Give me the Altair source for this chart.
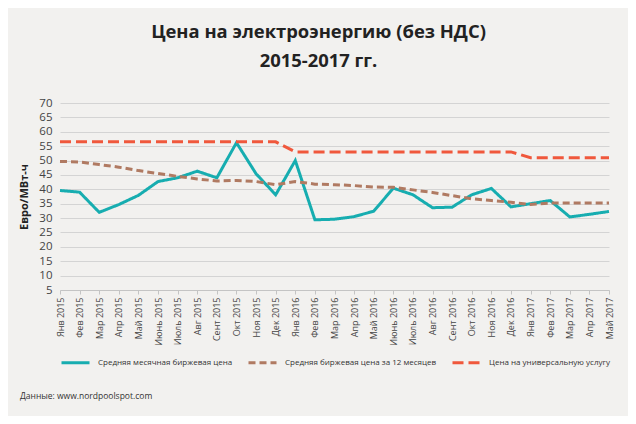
import altair as alt
import pandas as pd

months = ["Янв", "Фев", "Мар", "Апр", "Май", "Июнь", "Июль", "Авг", "Сент", "Окт", "Ноя", "Дек"]
labels = [f"{m} {y}" for y in (2015, 2016, 2017) for m in months][:29]

series = [
    "Средняя месячная биржевая цена",
    "Средняя биржевая цена за 12 месяцев",
    "Цена на универсальную услугу",
]

spot = [39.6, 39.0, 32.0, 34.7, 37.9, 42.7, 44.0, 46.3, 44.0, 56.2, 45.4, 38.1,
        50.0, 29.4, 29.6, 30.5, 32.4, 40.4, 38.1, 33.6, 33.8, 38.1, 40.3, 33.9,
        35.0, 36.1, 30.4, 31.3, 32.3]
avg12 = [49.7, 49.5, 48.6, 47.7, 46.5, 45.5, 44.5, 43.6, 42.9, 43.1, 42.7, 41.6,
         42.7, 41.8, 41.6, 41.3, 40.8, 40.7, 39.8, 38.9, 37.8, 36.7, 36.1, 35.5,
         34.7, 35.2, 35.2, 35.2, 35.2]
universal = [56.5, 56.5, 56.5, 56.5, 56.5, 56.5, 56.5, 56.5, 56.5, 56.5, 56.5, 56.5,
             53.0, 53.0, 53.0, 53.0, 53.0, 53.0, 53.0, 53.0, 53.0, 53.0, 53.0, 53.0,
             51.0, 51.0, 51.0, 51.0, 51.0]

y_ticks = [5, 10, 15, 20, 25, 30, 35, 40, 45, 50, 55, 60, 65, 70]
colors = ["#17adb0", "#b07a62", "#f0583c"]
source_text = ["Данные: www.nordpoolspot.com"]

rows = []
for name, vals in zip(series, [spot, avg12, universal]):
    for lab, v in zip(labels, vals):
        rows.append({"series": name, "month": lab, "value": v})
df = pd.DataFrame(rows)

FONT = "Open Sans"

legend = alt.Legend(
    title=None, orient="none", direction="horizontal", legendX=0, legendY=244,
    symbolType="stroke", symbolSize=784, symbolStrokeWidth=3, labelFontSize=8,
    labelColor="#333", labelFont=FONT, columnPadding=9, padding=0, labelOffset=7,
    labelLimit=400,
)

lines = alt.Chart(df).mark_line(strokeCap="butt").encode(
    x=alt.X("month:N", sort=labels, scale=alt.Scale(type="point", padding=0),
            axis=alt.Axis(title=None, labelAngle=270, labelFontSize=9, labelColor="#444",
                          labelFont=FONT, domainColor="#c4c4c4", tickColor="#c4c4c4",
                          tickSize=4, labelPadding=3, grid=False)),
    y=alt.Y("value:Q", scale=alt.Scale(domain=[5, 70], nice=False, zero=False),
            axis=alt.Axis(values=y_ticks, title="Евро/МВт-ч", labelFontSize=11.5,
                          labelColor="#444", labelFont=FONT, titleFont=FONT,
                          titleFontSize=11, titleFontWeight="bold", titleColor="#222",
                          titlePadding=9, labelPadding=8, domain=False, ticks=False,
                          grid=True, gridColor="#d4d4d4")),
    color=alt.Color("series:N", sort=series, scale=alt.Scale(domain=series, range=colors), legend=legend),
    strokeDash=alt.StrokeDash("series:N", sort=series,
                              scale=alt.Scale(domain=series, range=[[1, 0], [7, 4], [11, 5]]),
                              legend=legend),
    strokeWidth=alt.StrokeWidth("series:N", scale=alt.Scale(domain=series, range=[3, 3, 3.5]), legend=None),
    order=alt.Order("series:N"),
)

src = alt.Chart(pd.DataFrame({"t": source_text})).mark_text(
    align="left", baseline="middle", fontSize=8.5, font=FONT, color="#333"
).encode(text="t:N", x=alt.value(-40), y=alt.value(293))

chart = alt.layer(lines, src).properties(
    width=549, height=187,
    padding={"left": 52, "top": 95, "right": 19, "bottom": 126},
    autosize=alt.AutoSizeParams(type="none"),
    title=alt.TitleParams(
        ["Цена на электроэнергию (без НДС)", "2015-2017 гг."],
        font=FONT, fontSize=18.4, fontWeight="bold", color="#222",
        anchor="middle", dx=-16, lineHeight=29, offset=12, baseline="alphabetic",
    ),
).configure(background="#f2f1ef").configure_view(stroke=None)

chart.save("out.html", embed_options={"renderer": "svg", "actions": False})
